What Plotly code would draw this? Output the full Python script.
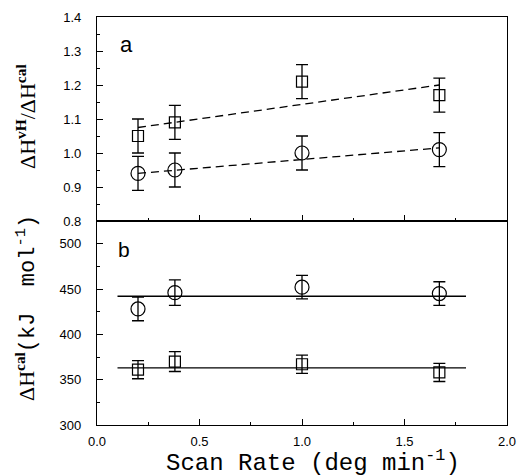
import plotly.graph_objects as go

# ---- data ----
scan_rate = [0.2, 0.38, 1.0, 1.67]

ratio_sq = [1.05, 1.09, 1.21, 1.17]
ratio_sq_err = [0.05, 0.05, 0.05, 0.05]
ratio_ci = [0.94, 0.95, 1.00, 1.01]
ratio_ci_err = [0.05, 0.05, 0.05, 0.05]

fit_x = [0.2, 1.67]
fit_sq = [1.075, 1.20]
fit_ci = [0.94, 1.015]

hcal_ci = [428, 446, 452, 445]
hcal_ci_err = [13, 14, 13, 13]
hcal_sq = [361, 370, 367, 358]
hcal_sq_err = [10, 11, 10, 10]

flat_x = [0.1, 1.8]
flat_ci = [442, 442]
flat_sq = [363, 363]

x_ticks = [0.0, 0.5, 1.0, 1.5, 2.0]
x_ticklabels = ["0.0", "0.5", "1.0", "1.5", "2.0"]
top_ticks = [0.8, 0.9, 1.0, 1.1, 1.2, 1.3, 1.4]
top_ticklabels = ["0.8", "0.9", "1.0", "1.1", "1.2", "1.3", "1.4"]
bot_ticks = [300, 350, 400, 450, 500]
bot_ticklabels = ["300", "350", "400", "450", "500"]

fig = go.Figure()

def err(arr):
    return dict(type="data", array=arr, visible=True, color="black", thickness=1.3, width=6)

sq_marker = dict(symbol="square-open", size=11, color="black", line=dict(width=1.2, color="black"))
ci_marker = dict(symbol="circle-open", size=14, color="black", line=dict(width=1.2, color="black"))

# top panel (xaxis2/yaxis2)
fig.add_trace(go.Scatter(x=fit_x, y=fit_sq, mode="lines", line=dict(color="black", width=1.3, dash="8px,5px"), xaxis="x2", yaxis="y2"))
fig.add_trace(go.Scatter(x=fit_x, y=fit_ci, mode="lines", line=dict(color="black", width=1.3, dash="8px,5px"), xaxis="x2", yaxis="y2"))
fig.add_trace(go.Scatter(x=scan_rate, y=ratio_sq, mode="markers", marker=sq_marker, error_y=err(ratio_sq_err), xaxis="x2", yaxis="y2"))
fig.add_trace(go.Scatter(x=scan_rate, y=ratio_ci, mode="markers", marker=ci_marker, error_y=err(ratio_ci_err), xaxis="x2", yaxis="y2"))

# bottom panel
fig.add_trace(go.Scatter(x=flat_x, y=flat_ci, mode="lines", line=dict(color="black", width=1.3)))
fig.add_trace(go.Scatter(x=flat_x, y=flat_sq, mode="lines", line=dict(color="black", width=1.3)))
fig.add_trace(go.Scatter(x=scan_rate, y=hcal_ci, mode="markers", marker=ci_marker, error_y=err(hcal_ci_err)))
fig.add_trace(go.Scatter(x=scan_rate, y=hcal_sq, mode="markers", marker=sq_marker, error_y=err(hcal_sq_err)))

tickfont = dict(family="Liberation Sans", size=13, color="black")
axis_common = dict(showline=True, linecolor="black", linewidth=1.3, mirror=True,
                   ticks="inside", ticklen=6, tickcolor="black", tickwidth=1,
                   showgrid=False, zeroline=False, tickfont=tickfont, automargin=False)

fig.update_layout(
    width=517, height=476,
    margin=dict(l=97, r=10, t=17, b=51, autoexpand=False),
    paper_bgcolor="white", plot_bgcolor="white",
    showlegend=False,
    xaxis=dict(domain=[0, 1], range=[0, 2], tickvals=x_ticks, ticktext=x_ticklabels, anchor="y",
               minor=dict(dtick=0.25, ticklen=3, ticks="inside", tickcolor="black"),
               ticklabelstandoff=4, **axis_common),
    yaxis=dict(domain=[0, 0.5], range=[300, 525], tickvals=bot_ticks, ticktext=bot_ticklabels, anchor="x",
               minor=dict(dtick=25, ticklen=3, ticks="inside", tickcolor="black"),
               ticklabelstandoff=12, **axis_common),
    xaxis2=dict(domain=[0, 1], range=[0, 2], tickvals=x_ticks, showticklabels=False, anchor="y2",
                minor=dict(dtick=0.25, ticklen=3, ticks="inside", tickcolor="black"),
                **axis_common),
    yaxis2=dict(domain=[0.5, 1], range=[0.8, 1.4], tickvals=top_ticks, ticktext=top_ticklabels, anchor="x2",
                minor=dict(dtick=0.05, ticklen=3, ticks="inside", tickcolor="black"),
                ticklabelstandoff=12, **axis_common),
)

fig.add_annotation(text="ΔH<sup><b>vH</b></sup>/ΔH<sup><b>cal</b></sup>", textangle=-90,
                   xref="paper", yref="paper", x=(26 - 97) / 410, y=(425 - 117) / 408,
                   xanchor="center", yanchor="middle", showarrow=False,
                   font=dict(family="Liberation Serif", size=22, color="black"))
fig.add_annotation(text="ΔH<sup><b>cal</b></sup><span style=\"font-family:'Liberation Mono'\">(kJ  mol<sup>-1</sup>)</span>",
                   textangle=-90,
                   xref="paper", yref="paper", x=(26 - 97) / 410, y=(425 - 308) / 408,
                   xanchor="center", yanchor="middle", showarrow=False,
                   font=dict(family="Liberation Serif", size=22, color="black"))
fig.add_annotation(text="Scan Rate (deg min<sup>-1</sup>)",
                   xref="paper", yref="paper", x=(313 - 97) / 410, y=(425 - 462) / 408,
                   xanchor="center", yanchor="middle", showarrow=False,
                   font=dict(family="Liberation Mono", size=24, color="black"))
fig.add_annotation(text="a", xref="x2", yref="y2", x=0.146, y=1.318, showarrow=False,
                   xanchor="center", yanchor="middle", font=dict(family="Liberation Sans", size=22, color="black"))
fig.add_annotation(text="b", xref="x", yref="y", x=0.13, y=494, showarrow=False,
                   xanchor="center", yanchor="middle", font=dict(family="Liberation Sans", size=21, color="black"))

fig.write_html("out.html")
